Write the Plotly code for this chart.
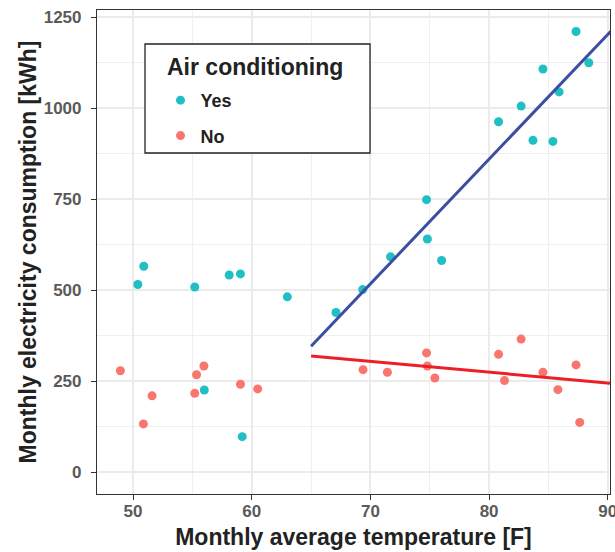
import numpy as np
import plotly.graph_objects as go

# Air conditioning = Yes
yes_temp = [50.4, 50.9, 55.2, 56.0, 58.1, 59.05, 59.2, 63.0, 67.1, 69.35, 71.7,
            74.73, 74.8, 76.0, 80.8, 82.7, 83.7, 84.54, 85.38, 85.9, 87.33, 88.4]
yes_kwh = [516, 566, 509, 226, 542, 545, 98, 482, 439, 502, 592,
           749, 641, 582, 963, 1006, 912, 1108, 909, 1045, 1211, 1125]

# Air conditioning = No
no_temp = [48.93, 50.87, 51.6, 55.2, 55.35, 55.97, 59.05, 60.5, 69.38, 71.43, 74.73,
           74.8, 75.43, 80.8, 81.3, 82.7, 84.54, 85.8, 87.33, 87.64]
no_kwh = [279, 133, 210, 217, 268, 292, 242, 229, 282, 275, 328,
          292, 259, 324, 252, 366, 275, 227, 295, 137]

threshold = 65
x_range = [46.96, 90.19]
y_range = [-59.6, 1270]
x_ticks = [50, 60, 70, 80, 90]
x_minor = [55, 65, 75, 85]
y_ticks = [0, 250, 500, 750, 1000, 1250]
y_minor = [125, 375, 625, 875, 1125]

teal = "#1FBFC4"
salmon = "#F8766D"
FONT = "Liberation Sans, Arial"


def fit_line(xs, ys):
    xs = np.array(xs)
    ys = np.array(ys)
    m = xs >= threshold
    b1, b0 = np.polyfit(xs[m], ys[m], 1)
    lx = np.array([threshold, x_range[1] + 1])
    return lx, b0 + b1 * lx


fig = go.Figure()
fig.add_trace(go.Scatter(x=yes_temp, y=yes_kwh, mode="markers", name="Yes",
                         legendgroup="a",
                         marker=dict(color=teal, size=9)))
fig.add_trace(go.Scatter(x=no_temp, y=no_kwh, mode="markers", name="No",
                         legendgroup="b",
                         marker=dict(color=salmon, size=9)))

lx, ly = fit_line(yes_temp, yes_kwh)
fig.add_trace(go.Scatter(x=lx, y=ly, mode="lines", showlegend=False,
                         line=dict(color="#3A4EA2", width=3)))
lx, ly = fit_line(no_temp, no_kwh)
fig.add_trace(go.Scatter(x=lx, y=ly, mode="lines", showlegend=False,
                         line=dict(color="#EC1F26", width=3)))

axis_common = dict(
    showline=True, mirror=True, linecolor="#333333", linewidth=1.2,
    ticks="outside", ticklen=5, tickcolor="#333333", tickwidth=1.2,
    showgrid=True, gridcolor="#EBEBEB", gridwidth=1.5,
    zeroline=False, ticklabeloverflow="allow",
    tickfont=dict(family=FONT, size=17, color="#5A5A5A", weight="bold"),
)

fig.update_xaxes(range=x_range, tickvals=x_ticks,
                 minor=dict(showgrid=True, gridcolor="#EFEFEF", gridwidth=0.8,
                            tickvals=x_minor, ticks=""),
                 ticklabelstandoff=-4,
                 title=dict(text="Monthly average temperature [F]",
                            font=dict(family=FONT, size=23, color="#222222", weight="bold"),
                            standoff=9),
                 **axis_common)
fig.update_yaxes(range=y_range, tickvals=y_ticks,
                 minor=dict(showgrid=True, gridcolor="#EFEFEF", gridwidth=0.8,
                            tickvals=y_minor, ticks=""),
                 ticklabelstandoff=6,
                 title=dict(text="Monthly electricity consumption [kWh]",
                            font=dict(family=FONT, size=23, color="#222222", weight="bold"),
                            standoff=0),
                 **axis_common)

# legend frame and title (drawn as shape + annotation for exact placement)
fig.add_shape(type="rect", xref="paper", yref="paper",
              x0=0.0936, x1=0.5322, y0=0.7045, y1=0.9298,
              line=dict(color="#222222", width=1.3), fillcolor="white", layer="above")
fig.add_annotation(xref="paper", yref="paper", x=0.1326, y=0.8822,
                   xanchor="left", yanchor="middle", showarrow=False,
                   text="Air conditioning",
                   font=dict(family=FONT, size=23, color="#222222", weight="bold"))

fig.update_layout(
    width=615, height=552,
    margin=dict(l=97, r=5, t=10, b=58, autoexpand=False),
    plot_bgcolor="white", paper_bgcolor="white",
    showlegend=True,
    legend=dict(
        x=0.1238, y=0.7769, xanchor="left", yanchor="middle",
        bgcolor="rgba(0,0,0,0)", borderwidth=0,
        font=dict(family=FONT, size=18, color="#222222", weight="bold"),
        traceorder="grouped", tracegroupgap=9,
    ),
)

fig.write_html("out.html",
               config={"displayModeBar": False},
               post_script="document.body.style.margin='0';document.body.style.overflow='hidden';")
